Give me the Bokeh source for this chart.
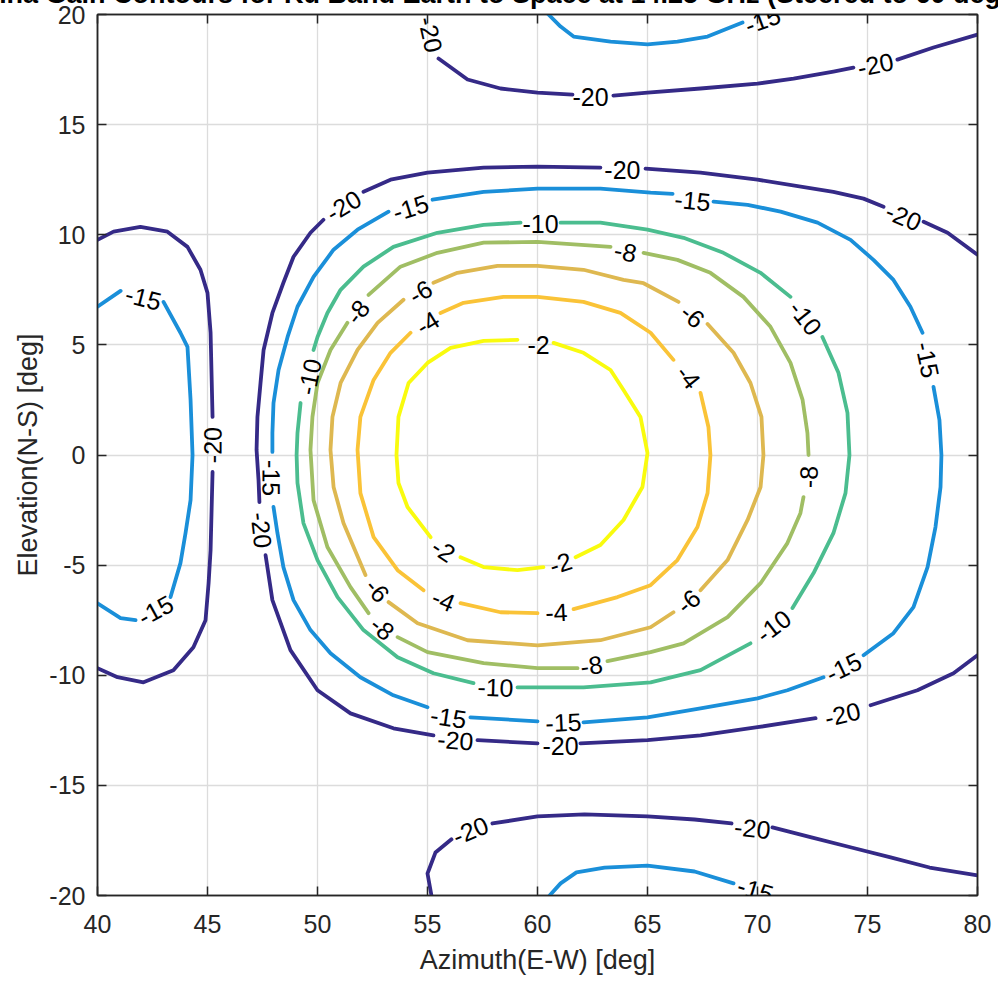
import numpy as np
from bokeh.plotting import figure
from bokeh.models import ColumnDataSource, Label, LinearAxis, FixedTicker, Range1d
from bokeh.embed import file_html
from bokeh.resources import INLINE

nan = float("nan")

# ---------------- data ----------------
levels = [-20, -15, -10, -8, -6, -4, -2]
level_colors = ["#352a87", "#1a8fd9", "#4bbd8f", "#a0be64", "#deb850", "#fac337", "#f9fb0e"]

x_ticks = [40, 45, 50, 55, 60, 65, 70, 75, 80]
y_ticks = [-20, -15, -10, -5, 0, 5, 10, 15, 20]
y_tick_labels = ["-20", "-15", "-10", "-5", "0", "5", "10", "15", "20"]

# contour -2 (NaN = gap left for an inline label)
c2_x = [60.73, 62.09, 63.32, 63.91, 64.68, 65.0, 64.77, 63.91, 62.86, 61.73, nan,
        60.27, 59.09, 57.55, 56.5, nan,
        55.14, 54.09, 53.68, 53.59, 53.68, 54.14, 55.0, 56.05, 57.55, 59.09]
c2_y = [5.09, 4.64, 3.86, 2.95, 1.73, 0.09, -1.45, -2.95, -4.09, -4.64, nan,
        -5.09, -5.23, -5.09, -4.64, nan,
        -3.73, -2.36, -1.27, 0.0, 1.73, 3.27, 4.18, 4.86, 5.18, 5.23]

# contour -4
c4_x = [55.59, 56.64, 58.45, 60.0, 62.09, 63.77, 65.14, 66.18, nan,
        67.41, 67.77, 67.86, 67.73, 67.27, 66.36, 65.14, 63.64, 61.64, nan,
        60.0, 58.32, 56.5, nan,
        54.82, 53.64, 52.55, 51.95, 51.82, 51.95, 52.55, 53.32, 54.23]
c4_y = [6.45, 6.91, 7.18, 7.18, 6.95, 6.45, 5.55, 4.32, nan,
        2.82, 1.27, 0.0, -1.73, -3.27, -4.77, -5.91, -6.45, -7.0, nan,
        -7.18, -7.14, -6.73, nan,
        -6.14, -5.23, -3.73, -1.73, 0.23, 1.73, 3.41, 4.64, 5.55]

# contour -6
c6_x = [55.27, 56.36, 58.18, 60.0, 62.09, 63.91, 64.82, 66.41, nan,
        67.73, 68.91, 69.68, 70.18, 70.27, 70.14, 69.55, 68.64, 67.41, nan,
        66.18, 65.14, 62.86, 60.0, 56.82, 54.55, 53.23, nan,
        52.18, 51.18, 50.73, 50.59, 50.68, 51.05, 51.82, 52.73, 53.91]
c6_y = [7.82, 8.27, 8.59, 8.59, 8.41, 7.95, 7.8, 6.95, nan,
        5.95, 4.64, 3.27, 1.73, 0.0, -1.45, -2.95, -4.77, -6.14, nan,
        -7.14, -7.82, -8.41, -8.64, -8.41, -7.64, -6.68, nan,
        -5.45, -3.09, -1.45, 0.23, 1.73, 3.27, 4.77, 6.0, 7.05]

# contour -8
c8_x = [63.32, 60.0, 57.55, 55.45, 53.77, 52.32, nan,
        51.36, 50.59, 50.0, 49.77, 49.68, 49.82, 50.45, 51.5, 52.32, nan,
        53.64, 55.0, 57.55, 60.0, 61.82, nan,
        63.18, 65.14, 66.64, 68.64, 70.14, 71.36, 71.95, 72.09, nan,
        72.32, 72.27, 72.05, 71.5, 70.59, 69.36, 67.86, 66.36, 64.82]
c8_y = [9.45, 9.68, 9.64, 9.18, 8.55, 7.27, nan,
        6.0, 4.77, 3.27, 1.73, 0.23, -2.05, -4.18, -6.0, -7.18, nan,
        -8.27, -8.95, -9.45, -9.68, -9.68, nan,
        -9.36, -8.95, -8.55, -7.36, -5.82, -4.0, -2.64, -1.91, nan,
        0.0, 1.0, 2.5, 4.18, 5.82, 7.18, 8.27, 8.86, 9.18]

# contour -10
c10_x = [59.23, 57.55, 55.45, 53.45, 52.09, 51.05, 50.45, 50.0, 49.82, nan,
         49.23, 49.09, 49.05, 49.09, 49.36, 50.0, 50.91, 52.09, 53.64, 55.27, 57.09, nan,
         59.09, 62.09, 65.14, 67.41, 69.68, nan,
         71.59, 72.55, 73.45, 74.0, 74.18, 74.09, 73.68, 72.95, nan,
         71.5, 70.14, 68.45, 66.64, 65.0, 62.86, 61.05]
c10_y = [10.55, 10.45, 10.09, 9.45, 8.55, 7.5, 6.45, 5.36, 4.77, nan,
         2.36, 1.0, 0.0, -1.27, -3.09, -4.77, -6.45, -7.95, -9.18, -9.91, -10.36, nan,
         -10.55, -10.55, -10.32, -9.77, -8.55, nan,
         -6.95, -5.36, -3.55, -1.73, 0.0, 1.91, 3.73, 5.36, nan,
         7.18, 8.27, 9.18, 9.86, 10.23, 10.55, 10.55]

# contour -15 (main loop, left loop, top piece, bottom piece)
c15_x = [66.14, 65.14, 62.86, 60.0, 57.55, 55.23, nan,
         53.23, 51.82, 50.73, 49.82, 49.09, 48.64, 48.23, 48.0, 47.95, 47.95, nan,
         48.0, 48.18, 48.45, 48.91, 49.68, 50.59, 51.95, 53.45, 55.0, nan,
         56.95, 60.0, nan,
         62.09, 65.0, 67.41, 70.0, 71.36, 73.0, nan,
         74.82, 76.18, 77.09, 77.73, 78.09, 78.32, 78.36, 78.27, 78.0, nan,
         77.5, 76.95, 76.18, 75.27, 74.23, 72.73, 71.05, 69.55, 68.0, nan,
         40.0, 41.05, nan,
         43.0, 43.77, 44.09, 44.23, 44.32, 44.23, 44.0, 43.77, 43.32, nan,
         41.73, 41.05, 40.0, nan,
         60.5, 61.05, 61.64, 63.32, 65.0, 66.36, 67.73, 69.32, nan,
         60.55, 61.05, 61.77, 63.05, 65.0, 67.14, 68.91]
c15_y = [11.86, 11.91, 12.09, 12.09, 11.95, 11.59, nan,
         11.05, 10.23, 9.32, 8.09, 6.73, 5.36, 3.86, 2.36, 1.0, 0.14, nan,
         -2.36, -3.55, -5.09, -6.59, -7.95, -9.0, -10.09, -10.91, -11.45, nan,
         -11.91, -12.09, nan,
         -12.14, -11.91, -11.5, -11.05, -10.68, -10.09, nan,
         -9.09, -8.09, -6.91, -5.09, -3.27, -1.45, 0.0, 1.59, 3.09, nan,
         5.55, 6.73, 7.95, 8.86, 9.77, 10.55, 11.05, 11.36, 11.5, nan,
         6.73, 7.45, nan,
         6.95, 5.55, 4.91, 2.5, 0.0, -2.05, -3.55, -4.91, -6.45, nan,
         -7.5, -7.41, -6.73, nan,
         20.0, 19.45, 19.0, 18.77, 18.64, 18.77, 19.0, 19.64, nan,
         -20.0, -19.45, -18.95, -18.73, -18.64, -18.91, -19.45]

# contour -20 (top piece, big C-shape, left loop, bottom piece)
c20_x = [55.5, 56.82, 58.32, 60.0, 61.59, nan,
         63.45, 65.0, 67.41, 70.0, 71.64, 73.45, 74.36, nan,
         76.36, 78.0, 80.0, nan,
         80.0, 78.64, 77.55, nan,
         75.73, 74.82, 73.45, 70.0, 67.41, 64.91, nan,
         62.86, 60.0, 57.55, 55.0, 53.32, 52.09, nan,
         50.27, 49.68, 48.91, 48.45, 47.95, 47.55, 47.41, 47.27, 47.23, 47.32, 47.36, nan,
         47.64, 47.95, 48.77, 50.0, 51.5, 53.45, 55.27, nan,
         57.27, 60.0, nan,
         61.95, 65.0, 67.41, 70.0, 72.64, nan,
         75.14, 77.27, 78.91, 80.0, nan,
         40.0, 40.73, 41.95, 43.18, 44.09, 44.68, 45.0, 45.14, 45.23, nan,
         45.23, 45.14, 45.05, 44.91, 44.36, 43.45, 42.09, 40.91, 40.0, nan,
         55.18, 55.0, 55.36, 56.09, nan,
         57.95, 60.0, 62.14, 65.0, 67.14, 68.82, nan,
         70.68, 72.45, 74.27, 76.05, 77.82, 80.0]
c20_y = [18.0, 17.05, 16.64, 16.45, 16.36, nan,
         16.32, 16.45, 16.64, 16.86, 17.09, 17.41, 17.59, nan,
         17.95, 18.5, 19.09, nan,
         9.09, 10.09, 10.59, nan,
         11.27, 11.64, 11.95, 12.5, 12.82, 13.0, nan,
         13.05, 13.09, 13.05, 12.82, 12.5, 11.95, nan,
         10.68, 10.09, 9.0, 7.82, 6.45, 4.77, 3.27, 1.73, 0.23, -1.14, -2.14, nan,
         -4.55, -6.59, -8.86, -10.68, -11.73, -12.41, -12.73, nan,
         -12.95, -13.09, nan,
         -13.09, -12.95, -12.73, -12.36, -11.95, nan,
         -11.36, -10.68, -9.91, -9.09, nan,
         9.77, 10.14, 10.36, 10.14, 9.45, 8.41, 7.36, 5.55, 1.73, nan,
         -0.77, -4.32, -5.82, -7.5, -8.73, -9.77, -10.32, -10.09, -9.68, nan,
         -20.0, -19.0, -18.05, -17.45, nan,
         -16.73, -16.41, -16.32, -16.41, -16.55, -16.73, nan,
         -16.91, -17.36, -17.82, -18.27, -18.73, -19.09]

# inline contour labels: position, rotation (rad), text
lab_x = [60.05, 55.73, 61.05,
         55.0, 66.86, 60.86, 55.73,
         54.68, 67.05, 66.86, 52.73,
         51.82, 64.0, 72.32, 62.45, 52.95,
         60.14, 49.64, 58.09, 70.73, 72.18,
         54.23, 47.91, 55.95, 61.18, 73.91, 77.73, 67.05, 42.09, 42.64, 70.23, 69.91,
         55.14, 62.41, 75.36, 76.64, 63.86, 51.18, 47.45, 56.27, 61.05, 73.86, 45.23, 56.95, 69.77]
lab_y = [5.0, -4.32, -4.91,
         6.0, 3.55, -7.14, -6.59,
         7.41, 6.32, -6.64, -6.14,
         6.5, 9.23, -1.0, -9.55, -7.86,
         10.5, 3.55, -10.55, -7.77, 6.23,
         11.23, -1.05, -11.91, -12.14, -9.64, 4.32, 11.55, 7.14, -7.05, 19.75, -19.75,
         19.09, 16.27, 17.73, 10.82, 12.95, 11.32, -3.41, -12.95, -13.23, -11.77, 0.45, -17.05, -16.95]
lab_angle = [0.0, -0.59, 0.3,
             0.55, -0.9, 0.05, -0.4,
             0.52, -0.7, 0.7, -0.87,
             0.9, -0.2, 1.55, 0.15, -0.7,
             0.0, 1.37, -0.03, 0.65, -0.9,
             0.3, -1.57, -0.15, 0.05, 0.45, -1.36, -0.1, -0.25, 0.5, 0.35, -0.3,
             -1.35, 0.0, 0.2, -0.4, 0.0, 0.55, -1.46, -0.08, 0.0, 0.23, 1.57, 0.4, -0.1]
lab_text = ["-2"] * 3 + ["-4"] * 4 + ["-6"] * 4 + ["-8"] * 5 + ["-10"] * 5 + ["-15"] * 11 + ["-20"] * 13

title_text = "Antenna Gain Contours for Ku Band Earth to Space at 14.25 GHz (Steered to 60 deg)"
x_label = "Azimuth(E-W) [deg]"
y_label = "Elevation(N-S) [deg]"

# ---------------- figure ----------------
FONT = "Liberation Sans"
AX = "#262626"

p = figure(frame_width=880, frame_height=881,
           x_range=Range1d(40, 80), y_range=Range1d(-20, 20),
           output_backend="svg", toolbar_location=None,
           min_border_left=97, min_border_right=21,
           min_border_top=40, min_border_bottom=87)
# the title sits mostly above the visible window, as in the reference crop
p.styles = {"margin-top": "-26px"}
p.background_fill_color = "white"
p.border_fill_color = "white"
p.outline_line_color = AX
p.outline_line_width = 1.5

bottom_axis = p.below[0]
left_axis = p.left[0]
bottom_axis.ticker = FixedTicker(ticks=x_ticks)
left_axis.ticker = FixedTicker(ticks=y_ticks)
left_axis.major_label_overrides = {t: s for t, s in zip(y_ticks, y_tick_labels)}
p.grid.grid_line_color = "#dcdcdc"
p.grid.grid_line_width = 1.3

top_axis = LinearAxis(ticker=FixedTicker(ticks=x_ticks),
                      major_label_overrides={t: "" for t in x_ticks})
right_axis = LinearAxis(ticker=FixedTicker(ticks=y_ticks),
                        major_label_overrides={t: "" for t in y_ticks})
p.add_layout(top_axis, "above")
p.add_layout(right_axis, "right")

for ax in [bottom_axis, left_axis, top_axis, right_axis]:
    ax.axis_line_color = AX
    ax.axis_line_width = 1.5
    ax.major_tick_line_color = AX
    ax.major_tick_line_width = 1.5
    ax.major_tick_in = 9
    ax.major_tick_out = 0
    ax.minor_tick_line_color = None
    ax.major_label_text_font = FONT
    ax.major_label_text_font_size = "25px"
    ax.major_label_text_color = AX

for ax in [top_axis, right_axis]:
    ax.major_label_standoff = 0
top_axis.major_label_text_font_size = "0px"

bottom_axis.major_label_standoff = 19
left_axis.major_label_standoff = 12
bottom_axis.axis_label = x_label
left_axis.axis_label = y_label
for ax in [bottom_axis, left_axis]:
    ax.axis_label_text_font = FONT
    ax.axis_label_text_font_size = "27px"
    ax.axis_label_text_font_style = "normal"
    ax.axis_label_text_color = AX
bottom_axis.axis_label_standoff = 9
left_axis.axis_label_standoff = 3

# title: drawn as the top axis label (not clipped to the plot frame);
# trailing no-break spaces move it left, where the reference crop shows it
top_axis.axis_label = title_text + "\u00a0" * 18
top_axis.axis_label_text_font = FONT
top_axis.axis_label_text_font_size = "27px"
top_axis.axis_label_text_font_style = "bold"
top_axis.axis_label_text_color = "black"
top_axis.axis_label_standoff = 6

series = [(c20_x, c20_y), (c15_x, c15_y), (c10_x, c10_y), (c8_x, c8_y),
          (c6_x, c6_y), (c4_x, c4_y), (c2_x, c2_y)]
for (xs, ys), col in zip(series, level_colors):
    src = ColumnDataSource(dict(x=np.array(xs, dtype=float), y=np.array(ys, dtype=float)))
    p.line("x", "y", source=src, line_color=col, line_width=3.8, line_join="round", line_cap="round")

for lx, ly, la, lt in zip(lab_x, lab_y, lab_angle, lab_text):
    p.add_layout(Label(x=lx, y=ly, angle=la, text=lt,
                       text_align="center", text_baseline="middle",
                       text_font=FONT, text_font_size="25px", text_color="black"))

open("out.html", "w").write(file_html(p, INLINE))
